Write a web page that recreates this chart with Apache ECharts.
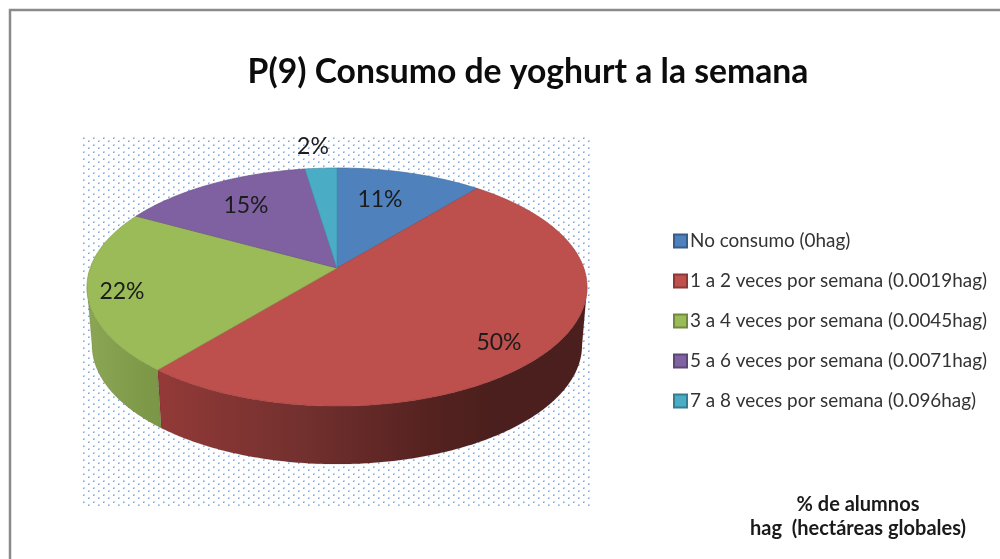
<!DOCTYPE html>
<html>
<head>
<meta charset="utf-8">
<style>html,body{margin:0;padding:0;background:#fff}#c{width:1000px;height:559px}</style>
<script src="https://cdn.jsdelivr.net/npm/echarts@6/dist/echarts.min.js"></script>
</head>
<body>
<div id="c"></div>
<script>
const categories = [
  'No consumo (0hag)',
  '1 a 2 veces por semana (0.0019hag)',
  '3 a 4 veces por semana (0.0045hag)',
  '5 a 6 veces por semana (0.0071hag)',
  '7 a 8 veces por semana (0.096hag)'
];
const percentages = [11, 50, 22, 14.6, 2.4];
const titleText = 'P(9) Consumo de yoghurt a la semana';
const noteText = '% de alumnos\nhag  (hectáreas globales)';

const topColors = ['#4f81bd', '#bd4f4c', '#9bbb59', '#7f60a0', '#4bacc6'];
const edgeColors = ['#44709f', '#a14341', '#84a04b', '#6c5288', '#4093a8'];
const legendColors = ['#4f81bd', '#c0504d', '#9bbb59', '#8064a2', '#4bacc6'];
const legendBorders = ['#385d8a', '#8c3836', '#71893f', '#5c4776', '#357d91'];
const labelAnchors = [[380, 200], [499, 343], [122, 292], [246, 206], [313, 147]];

// perspective disc
const P = { cx: 337, apexY: 268, bx: 246.8, by: 116, k: 0.16, depth: 58, shrink: 0.98 };
const thetaEdge = Math.acos(-P.k);
const visibleFrom = thetaEdge, visibleTo = 2 * Math.PI - thetaEdge;

function rim(t) {
  const w = 1 + P.k * Math.cos(t);
  return [P.cx + P.bx * Math.sin(t) / w, P.apexY - P.by * Math.cos(t) / w];
}
function floor(t) {
  const p = rim(t);
  return [P.cx + (p[0] - P.cx) * P.shrink, p[1] + P.depth];
}
function arc(a, b, fn) {
  const n = Math.max(2, Math.ceil((b - a) / 0.01));
  const out = [];
  for (let i = 0; i <= n; i++) out.push(fn(a + (b - a) * i / n));
  return out;
}
const wallFills = {
  1: { type: 'linear', global: true, x: 158, y: 0, x2: 575, y2: 0, colorStops: [
    { offset: 0, color: '#933a38' }, { offset: 0.35, color: '#72302e' },
    { offset: 0.65, color: '#552220' }, { offset: 0.8, color: '#4b1f1d' }, { offset: 1, color: '#4b1f1d' }] },
  2: { type: 'linear', global: true, x: 88, y: 0, x2: 160, y2: 0, colorStops: [
    { offset: 0, color: '#8ba653' }, { offset: 1, color: '#7a9646' }] }
};

function makeRender(idx) {
  return function (params, api) {
    const total = percentages.reduce((s, v) => s + v, 0);
    const before = percentages.slice(0, idx).reduce((s, v) => s + v, 0);
    const value = api.value(0);
    const a = before / total * 2 * Math.PI;
    const b = (before + value) / total * 2 * Math.PI;
    const children = [];
    const wa = Math.max(a, visibleFrom), wb = Math.min(b, visibleTo);
    if (wb > wa) {
      const pts = arc(wa, wb, rim).concat(arc(wa, wb, floor).reverse());
      children.push({ type: 'polygon', shape: { points: pts }, z2: 1,
        style: { fill: wallFills[idx] || edgeColors[idx], stroke: 'rgba(60,20,20,0.25)', lineWidth: 0.5 } });
    }
    children.push({ type: 'polygon', z2: 2,
      shape: { points: [[P.cx, P.apexY]].concat(arc(a, b, rim)) },
      style: { fill: topColors[idx], stroke: edgeColors[idx], lineWidth: 0.7 } });
    children.push({ type: 'text', z2: 10,
      style: { x: labelAnchors[idx][0], y: labelAnchors[idx][1], text: Math.round(value) + '%',
        fill: '#1c1c1c', font: '23px Lato', align: 'center', verticalAlign: 'middle' } });
    return { type: 'group', children };
  };
}

function dotTile() {
  const c = document.createElement('canvas');
  c.width = 10; c.height = 7;
  const g = c.getContext('2d');
  g.fillStyle = '#fff'; g.fillRect(0, 0, 10, 7);
  [[3, 4], [8, 0]].forEach(d => {
    g.fillStyle = '#c4d7f1'; g.fillRect(d[0], d[1], 2, 2);
    g.fillStyle = '#7ba3dc'; g.fillRect(d[0], d[1] + 1, 1, 1);
  });
  return c;
}

const chart = echarts.init(document.getElementById('c'), null, { renderer: 'canvas' });
chart.setOption({
  animation: false,
  backgroundColor: '#fff',
  title: [
    { text: titleText, left: 523, top: 50, textAlign: 'center',
      textStyle: { fontFamily: 'Lato', fontSize: 33.7, fontWeight: 'bold', color: '#0c0c0c' } },
    { text: noteText, left: 853, top: 488, textAlign: 'center',
      textStyle: { fontFamily: 'Lato', fontSize: 20, fontWeight: 'bold', color: '#1a1a1a', lineHeight: 24 } }
  ],
  legend: {
    orient: 'vertical', left: 668, top: 226, itemWidth: 13, itemHeight: 13, itemGap: 20,
    selectedMode: false, icon: 'rect',
    data: categories,
    textStyle: { fontFamily: 'Lato', fontSize: 18.9, color: '#333333', padding: [0, 0, 0, -2], lineHeight: 20 }
  },
  graphic: [
    { type: 'polyline', z: -10, silent: true,
      shape: { points: [[10, 559], [10, 10], [1000, 10]] },
      style: { stroke: '#8a8a8a', lineWidth: 2.5, fill: null } },
    { type: 'rect', z: -10, silent: true,
      shape: { x: 83, y: 137, width: 510, height: 369 },
      style: { fill: { image: dotTile(), repeat: 'repeat' } } }
  ],
  series: categories.map((name, i) => ({
    type: 'custom', name, coordinateSystem: 'none', silent: true,
    itemStyle: { color: legendColors[i], borderColor: legendBorders[i], borderWidth: 1.5 },
    data: [[percentages[i]]],
    renderItem: makeRender(i)
  }))
});
</script>
</body>
</html>
